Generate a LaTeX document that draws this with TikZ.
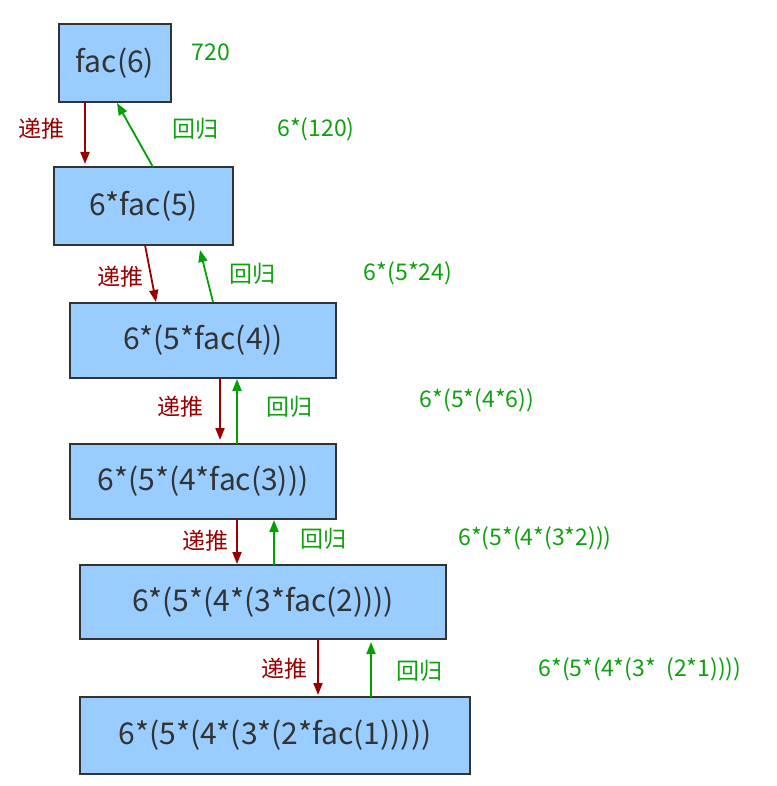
\documentclass[tikz,border=0pt]{standalone}
\usepackage{fontspec}
\setmainfont{Noto Sans CJK SC}
\usetikzlibrary{arrows.meta}
\definecolor{boxfill}{HTML}{99CCFF}
\definecolor{boxline}{HTML}{333333}
\definecolor{pushred}{HTML}{990000}
\definecolor{backgreen}{HTML}{00A000}
\definecolor{txtgreen}{HTML}{0EA00E}
\tikzset{
  fbox/.style={draw=boxline, line width=1.5pt, fill=boxfill, text=boxline, inner sep=0pt, font=\fontsize{30}{34}\selectfont},
  push/.style={draw=pushred, line width=1.8pt, -{Triangle[length=12pt,width=9pt]}},
  back/.style={draw=backgreen, line width=1.8pt, -{Triangle[length=12pt,width=9pt]}},
  redlbl/.style={text=pushred, font=\fontsize{23}{27}\selectfont, inner sep=0pt},
  grnlbl/.style={text=txtgreen, font=\fontsize{23}{27}\selectfont, inner sep=0pt},
}
\begin{document}
\begin{tikzpicture}[x=1pt,y=-1pt]
\useasboundingbox (0,0) rectangle (776,786);
\node[fbox, minimum width=112pt, minimum height=78pt] (b1) at (115,63) {fac(6)};
\node[fbox, minimum width=179pt, minimum height=78pt] (b2) at (143.5,206) {6*fac(5)};
\node[fbox, minimum width=266pt, minimum height=75pt] (b3) at (203,340.5) {6*(5*fac(4))};
\node[fbox, minimum width=266pt, minimum height=75pt] (b4) at (203,481.5) {6*(5*(4*fac(3)))};
\node[fbox, minimum width=366pt, minimum height=74pt] (b5) at (263,602) {6*(5*(4*(3*fac(2))))};
\node[fbox, minimum width=390pt, minimum height=77pt] (b6) at (275,735.5) {6*(5*(4*(3*(2*fac(1)))))};

% arrow endpoints
\coordinate (r1s) at (85,102); \coordinate (r1e) at (85,164);
\coordinate (g1s) at (153,167); \coordinate (g1e) at (117,103);
\coordinate (r2s) at (145,245); \coordinate (r2e) at (156,302);
\coordinate (g2s) at (213,302); \coordinate (g2e) at (200,250);
\coordinate (r3s) at (220,378); \coordinate (r3e) at (220,440);
\coordinate (g3s) at (237,444); \coordinate (g3e) at (237,379);
\coordinate (r4s) at (237,519); \coordinate (r4e) at (237,564);
\coordinate (g4s) at (274,565); \coordinate (g4e) at (274,520);
\coordinate (r5s) at (318,639); \coordinate (r5e) at (318,695);
\coordinate (g5s) at (371,697); \coordinate (g5e) at (371,642);

\draw[push] (r1s) -- (r1e);
\draw[back] (g1s) -- (g1e);
\draw[push] (r2s) -- (r2e);
\draw[back] (g2s) -- (g2e);
\draw[push] (r3s) -- (r3e);
\draw[back] (g3s) -- (g3e);
\draw[push] (r4s) -- (r4e);
\draw[back] (g4s) -- (g4e);
\draw[push] (r5s) -- (r5e);
\draw[back] (g5s) -- (g5e);

\node[redlbl] (l1) at (41,129) {递推};
\node[redlbl] (l2) at (120,277) {递推};
\node[redlbl] (l3) at (180,407) {递推};
\node[redlbl] (l4) at (205,541) {递推};
\node[redlbl] (l5) at (284,669) {递推};

\node[grnlbl] (h1) at (195,129) {回归};
\node[grnlbl] (h2) at (252,274) {回归};
\node[grnlbl] (h3) at (289,407) {回归};
\node[grnlbl] (h4) at (323,539) {回归};
\node[grnlbl] (h5) at (419,671) {回归};

\node[grnlbl] (v0) at (211,52) {720};
\node[grnlbl] (v1) at (316,129) {6*(120)};
\node[grnlbl] (v2) at (408,273) {6*(5*24)};
\node[grnlbl] (v3) at (477,400) {6*(5*(4*6))};
\node[grnlbl] (v4) at (535,538) {6*(5*(4*(3*2)))};
\node[grnlbl] (v5) at (640,669) {6*(5*(4*(3*\ \ (2*1))))};
\end{tikzpicture}
\end{document}
